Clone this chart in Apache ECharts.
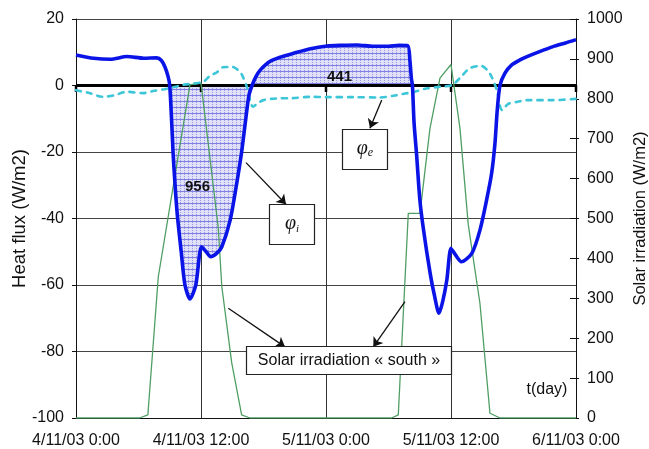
<!DOCTYPE html>
<html>
<head>
<meta charset="utf-8">
<script src="https://cdn.jsdelivr.net/npm/echarts@6/dist/echarts.min.js"></script>
<style>
html,body{margin:0;padding:0;background:#fff;}
#chart{width:649px;height:449px;}
</style>
</head>
<body>
<div id="chart"></div>
<script>
// ---- data (x in hours from 4/11/03 0:00) ----
const xTickLabels = ['4/11/03 0:00','4/11/03 12:00','5/11/03 0:00','5/11/03 12:00','6/11/03 0:00'];
const zeroLineHours = [0,12,24,36,48];

// interior heat flux phi_i (W/m2, left axis)
const phiIHours = [0,1.7,3.3,4.9,6.5,7.75,8.2,8.55,8.85,9.0,9.2,9.35,9.7,10.1,10.46,10.94,11.5,12.05,12.5,12.93,13.5,14.0,14.8,15.4,15.9,16.3,16.6,16.9,17.3,17.7,18.6,19.7,20.9,22.4,24.1,25.5,27,28.5,30,31,31.85,32.05,32.2,32.3,32.45,32.7,33.0,33.34,34.0,34.4,34.85,35.2,35.6,36.0,36.4,37.0,38.0,38.78,39.42,39.9,40.22,40.44,40.7,41.18,41.83,42.62,43.3,44.5,45.8,47,48];
const phiIValues = [9.2,8.2,7.9,8.7,8.2,8.3,7.5,5.5,2.6,0,-12,-22,-38,-50,-60,-64.2,-60,-48.5,-50,-51.5,-50.5,-48.5,-40.5,-30,-20,-10,-3,0,2.8,4.7,7.2,8.6,9.7,11,11.9,12.1,12.2,11.8,11.8,12.1,12.0,7.7,2,0,-11,-20.9,-34,-42.9,-56.5,-63,-68.5,-65,-58.5,-49,-50.8,-53,-50.5,-43.5,-34.4,-26.4,-17.4,-7.4,0,3.7,6.2,7.7,8.7,10.2,11.7,12.8,13.8];

// exterior heat flux phi_e (W/m2, left axis)
const phiEHours = [0,1.2,2.6,3.6,4.9,6.4,7.5,8.5,9.5,10.3,11.3,12.2,12.9,13.5,14.1,15.0,15.5,15.9,16.4,17.0,17.5,18.0,19.2,20.8,22.5,24.1,26.6,29.2,30.6,31.6,32.4,33.5,34.9,36.1,36.9,37.8,38.9,39.5,39.9,40.4,40.9,41.5,42.4,43.3,45.8,48];
const phiEValues = [-1.4,-2.2,-3.4,-3.0,-1.9,-2.3,-1.6,-1.1,-0.4,0.2,0.6,1.1,3.0,3.9,5.5,5.6,4.8,3.4,-0.4,-6.4,-5.2,-4.4,-3.9,-3.8,-3.4,-3.5,-3.5,-3.6,-3.0,-2.4,-2.0,-1.0,-0.4,0.15,2.4,5.2,5.9,4.6,2.6,-1.4,-7.4,-5.5,-4.9,-4.4,-4.4,-4.0];

// solar irradiation south (W/m2, right axis)
const solarHours = [0,6.1,6.9,7.9,10.94,12.0,13.66,14.0,14.95,15.9,16.7,30.3,30.94,31.9,33.02,33.98,34.94,36.0,36.86,37.66,38.78,39.74,40.7,48];
const solarValues = [0,0,8,354,835,840,476,329,138,8,0,0,8,513,513,726,852,886,726,484,287,12,0,0];

// shaded integration window (hours) and its labels
const shadeStart = 9.0, shadeEnd = 32.3;
const areaLabels = ['956','441'];

// ---- build ----
const zip = (xs, ys) => xs.map((x,i)=>[x, ys[i]]);
const phiI = zip(phiIHours, phiIValues);
const phiE = zip(phiEHours, phiEValues);
const solar = zip(solarHours, solarValues);
const phiIShade = phiI.filter(p => p[0] >= shadeStart && p[0] <= shadeEnd);
const zeroLine = zeroLineHours.map(h => [h, 0]);

function makeHatch(){
  const c = document.createElement('canvas');
  c.width = 4; c.height = 6;
  const g = c.getContext('2d');
  g.fillStyle = '#e0e0f8'; g.fillRect(0,0,4,6);
  g.fillStyle = '#9c9ce6';
  for (let y=0; y<6; y+=2) g.fillRect(0,y,1,1);
  g.fillStyle = '#8080e2'; g.fillRect(0,5,4,1);
  return c;
}

const FONT = 'Liberation Sans, Arial, sans-serif';
const chart = echarts.init(document.getElementById('chart'), null, {renderer:'canvas'});

const option = {
  animation: false,
  backgroundColor: '#fff',
  textStyle: {fontFamily: FONT},
  grid: {left: 76, right: 73, top: 19, bottom: 31, containLabel: false, outerBoundsMode: 'none'},
  xAxis: {
    type: 'value', min: 0, max: 48, interval: 12,
    axisLine: {onZero: false, lineStyle: {color: '#111', width: 1}},
    axisTick: {show: false},
    axisLabel: {margin: 15, fontSize: 16, color: '#111', fontFamily: FONT,
      formatter: v => xTickLabels[Math.round(v/12)]},
    splitLine: {show: true, lineStyle: {color: '#333', width: 1}}
  },
  yAxis: [
    {
      type: 'value', min: -100, max: 20, interval: 20, position: 'left',
      name: 'Heat flux (W/m2)', nameLocation: 'middle', nameGap: 47, nameMoveOverlap: false,
      nameTextStyle: {fontSize: 18.5, color: '#111', fontFamily: FONT},
      axisLine: {show: true, lineStyle: {color: '#111', width: 1}},
      axisTick: {show: true, length: 4, lineStyle: {color: '#111'}},
      axisLabel: {margin: 12, fontSize: 16, color: '#111', fontFamily: FONT},
      splitLine: {show: true, lineStyle: {color: '#444', width: 1}}
    },
    {
      type: 'value', min: 0, max: 1000, interval: 100, position: 'right',
      name: 'Solar irradiation (W/m2)', nameLocation: 'middle', nameGap: 56, nameMoveOverlap: false,
      nameTextStyle: {fontSize: 16.5, color: '#111', fontFamily: FONT},
      axisLine: {show: true, lineStyle: {color: '#111', width: 1}},
      axisTick: {show: true, inside: true, length: 6, lineStyle: {color: '#111'}},
      axisLabel: {margin: 11, fontSize: 16, color: '#111', fontFamily: FONT, formatter: v => String(v)},
      splitLine: {show: false}
    },
    {
      type: 'value', min: 0, max: 1000, interval: 100, position: 'right',
      axisLine: {show: false},
      axisTick: {show: true, inside: false, length: 3, lineStyle: {color: '#111'}},
      axisLabel: {show: false},
      splitLine: {show: false}
    }
  ],
  series: [
    {
      name: 'shade', type: 'line', data: phiIShade, yAxisIndex: 0,
      smooth: 0.25, showSymbol: false, silent: true, z: 1,
      lineStyle: {width: 0, opacity: 0},
      areaStyle: {origin: 0, opacity: 1, color: {image: makeHatch(), repeat: 'repeat'}}
    },
    {
      name: 'zero', type: 'line', data: zeroLine, yAxisIndex: 0, z: 2, silent: true,
      symbol: 'rect', symbolSize: [2.5, 7], symbolOffset: [0, 3], showSymbol: true,
      itemStyle: {color: '#000'},
      lineStyle: {color: '#000', width: 3}
    },
    {
      name: 'Solar irradiation south', type: 'line', data: solar, yAxisIndex: 1, z: 3,
      showSymbol: false, silent: true,
      lineStyle: {color: '#4f9e63', width: 1.3}
    },
    {
      name: 'phi_e', type: 'line', data: phiE, yAxisIndex: 0, z: 4,
      smooth: 0.3, showSymbol: false, silent: true,
      lineStyle: {color: '#3cc6d8', width: 2.6, type: [5, 6], cap: 'round'}
    },
    {
      name: 'phi_i', type: 'line', data: phiI, yAxisIndex: 0, z: 5,
      smooth: 0.25, showSymbol: false, silent: true,
      lineStyle: {color: '#0a14e6', width: 3.6},
      markLine: {
        silent: true, symbol: ['none', 'arrow'], symbolSize: 9,
        label: {show: false},
        lineStyle: {color: '#111', width: 1.3, type: 'solid'},
        data: [
          [{coord: [16.32, -23.2]}, {coord: [20.16, -35.7]}],
          [{coord: [29.35, -4.36]}, {coord: [28.22, -12.87]}],
          [{coord: [14.62, -67.0]}, {coord: [20.06, -78.6]}],
          [{coord: [31.58, -65.0]}, {coord: [28.54, -78.6]}]
        ]
      }
    }
  ],
  graphic: [
    {type: 'text', left: 185, top: 179, z: 20, style: {text: areaLabels[0], font: 'bold 15px ' + FONT, fill: '#111'}},
    {type: 'text', left: 327, top: 69, z: 20, style: {text: areaLabels[1], font: 'bold 15px ' + FONT, fill: '#111'}},
    {type: 'rect', z: 20, shape: {x: 269.5, y: 204.5, width: 45, height: 40}, style: {fill: '#fff', stroke: '#222', lineWidth: 1.2}},
    {type: 'text', z: 21, x: 292, y: 224, style: {
      text: '{p|φ}{s|i}', align: 'center', verticalAlign: 'middle',
      rich: {
        p: {fontSize: 20, fontStyle: 'italic', fontFamily: 'Liberation Serif, serif', fill: '#111'},
        s: {fontSize: 11, fontStyle: 'italic', fontFamily: 'Liberation Serif, serif', fill: '#111', padding: [10, 0, 0, 0]}
      }}},
    {type: 'rect', z: 20, shape: {x: 342.5, y: 129.5, width: 45, height: 40}, style: {fill: '#fff', stroke: '#222', lineWidth: 1.2}},
    {type: 'text', z: 21, x: 365, y: 149, style: {
      text: '{p|φ}{s|e}', align: 'center', verticalAlign: 'middle',
      rich: {
        p: {fontSize: 20, fontStyle: 'italic', fontFamily: 'Liberation Serif, serif', fill: '#111'},
        s: {fontSize: 12, fontStyle: 'italic', fontFamily: 'Liberation Serif, serif', fill: '#111', padding: [8, 0, 0, 0]}
      }}},
    {type: 'rect', z: 20, shape: {x: 246.5, y: 346.5, width: 205, height: 28}, style: {fill: '#fff', stroke: '#222', lineWidth: 1.2}},
    {type: 'text', z: 21, x: 349, y: 361, style: {text: 'Solar irradiation « south »', align: 'center', verticalAlign: 'middle', font: '16px ' + FONT, fill: '#111'}},
    {type: 'text', z: 21, x: 547, y: 390, style: {text: 't(day)', align: 'center', verticalAlign: 'middle', font: '16px ' + FONT, fill: '#111'}}
  ]
};
chart.setOption(option);
</script>
</body>
</html>
